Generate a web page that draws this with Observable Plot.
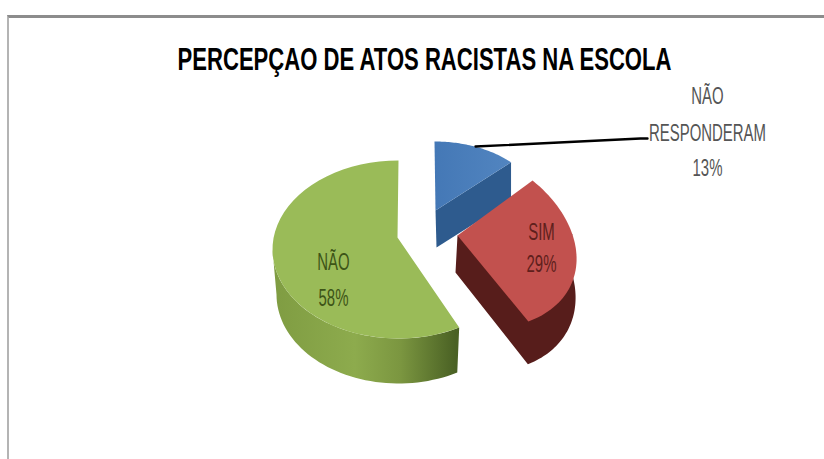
<!DOCTYPE html>
<html lang="pt">
<head>
<meta charset="utf-8">
<title>Percepção de atos racistas na escola</title>
<script src="https://cdn.jsdelivr.net/npm/d3@7"></script>
<script src="https://cdn.jsdelivr.net/npm/@observablehq/plot@0.6"></script>
<style>
  html, body { margin: 0; background: #fff; }
  #chart { position: relative; width: 824px; height: 459px; overflow: hidden; }
  #chart svg { display: block; }
  #frame { position: absolute; left: 7px; top: 15px; right: -4px; bottom: -4px;
           border-top: 3px solid #8c8c8c; border-left: 2px solid #b4b4b4; pointer-events: none; }
</style>
</head>
<body>
<div id="chart"><div id="frame"></div></div>
<script>
const chartTitle = "PERCEPÇAO DE ATOS RACISTAS NA ESCOLA";
const categories = ["NÃO RESPONDERAM", "SIM", "NÃO"];
const shares = [13, 29, 58];

// Clockwise sweep of each slice, starting at twelve o'clock.
const total = d3.sum(shares);
const sweeps = Array.from(d3.cumsum(shares), (end, i) => ({
  t0: ((end - shares[i]) / total) * 2 * Math.PI,
  t1: (end / total) * 2 * Math.PI
}));

// Perspective view of the exploded pie: each top face is an ellipse (possibly sheared),
// its extruded rim a second ellipse below, and each slice has its own apex.
const view = [
  { top: { c: [434, 207], a: [105, 0], b: [0, -66] }, bottom: { c: [434, 245], a: [105, 0], b: [0, -66] },
    apex: [435, 210], apexLow: [436, 247] },
  { top: { c: [457, 235], a: [118, 11], b: [-16, -92] }, bottom: { c: [457, 272], a: [117, 12], b: [-16, -98] },
    apex: [457, 235], apexLow: [455, 272] },
  { top: { c: [398, 249], a: [126, 0], b: [0, -89] }, bottom: { c: [398, 294], a: [122, 0], b: [0, -89] },
    apex: [397, 237], apexLow: [397, 280] }
];

const rim = (e, t) => ({
  x: e.c[0] + e.a[0] * Math.sin(t) + e.b[0] * Math.cos(t),
  y: e.c[1] + e.a[1] * Math.sin(t) + e.b[1] * Math.cos(t)
});
const arc = (e, t0, t1, n = 48) =>
  d3.range(n + 1).map(i => rim(e, t0 + (t1 - t0) * i / n));
const pt = ([x, y]) => ({ x, y });

const faces = sweeps.map(({ t0, t1 }, i) =>
  [pt(view[i].apex), ...arc(view[i].top, t0, t1)]);

// Visible walls of each slice.
const blueWall = [
  pt(view[0].apex), rim(view[0].top, sweeps[0].t1),
  rim(view[0].bottom, sweeps[0].t1), pt(view[0].apexLow)
];
const redTurn = sweeps[1].t0 + 0.62;
const redWall = [
  pt(view[1].apex), rim(view[1].top, redTurn),
  ...arc(view[1].bottom, redTurn, sweeps[1].t1), pt(view[1].apexLow)
];
const greenTurn = 1.5 * Math.PI;
const greenWall = [
  ...arc(view[2].top, sweeps[2].t0, greenTurn),
  ...arc(view[2].bottom, greenTurn, sweeps[2].t0)
];

const leader = [{ x: 475, y: 146 }, { x: 640, y: 138 }, { x: 647, y: 138 }];

const labels = [
  { lines: ["NÃO", "RESPONDERAM", `${shares[0]}%`], x: 707, ys: [96, 133, 168], fill: "#555555" },
  { lines: ["SIM", `${shares[1]}%`], x: 541, ys: [232, 264], fill: "#5e1f1c" },
  { lines: ["NÃO", `${shares[2]}%`], x: 333, ys: [262, 298], fill: "#3d5417" }
].flatMap(g => g.lines.map((text, i) => ({ text, x: g.x, y: g.ys[i], fill: g.fill })));

const gradients = () => {
  const defs = d3.create("svg:defs");
  const add = (id, stops) => {
    const g = defs.append("linearGradient").attr("id", id)
      .attr("gradientUnits", "userSpaceOnUse")
      .attr("x1", stops.x1).attr("x2", stops.x2).attr("y1", 0).attr("y2", 0);
    stops.c.forEach(([o, c]) => g.append("stop").attr("offset", o).attr("stop-color", c));
  };
  add("greenSide", { x1: 272, x2: 455, c: [[0, "#7f9c42"], [0.45, "#8dab4d"], [0.7, "#7b9640"], [1, "#4a6124"]] });
  add("blueTop", { x1: 434, x2: 511, c: [[0, "#4478b6"], [1, "#5285c0"]] });
  return defs.node();
};

const shape = (points, fill) => Plot.line(points, { x: "x", y: "y", fill, stroke: "none" });

const plot = Plot.plot({
  width: 824,
  height: 459,
  margin: 0,
  x: { domain: [0, 824], range: [0, 824], axis: null },
  y: { domain: [0, 459], range: [0, 459], axis: null },
  style: { background: "transparent" },
  marks: [
    gradients,
    shape(greenWall, "url(#greenSide)"),
    shape(faces[2], "#9abb58"),
    shape(blueWall, "#2e5b8e"),
    shape(faces[0], "url(#blueTop)"),
    shape(redWall, "#571d1b"),
    shape(faces[1], "#c2514e"),
    Plot.line(leader, { x: "x", y: "y", stroke: "#000", strokeWidth: 2.4 }),
    Plot.text(labels, {
      x: "x", y: "y", text: "text", fill: "fill", fontSize: 23,
      fontFamily: "'Liberation Sans', sans-serif"
    }),
    Plot.text([chartTitle], {
      x: () => 424, y: () => 59, text: d => d, fontSize: 32, fontWeight: 700, fill: "#000",
      fontFamily: "'Liberation Sans', sans-serif"
    })
  ]
});
document.getElementById("chart").prepend(plot);

// The face is a condensed sans, so squeeze each string horizontally.
plot.querySelectorAll("text").forEach(t => {
  const condense = t.getAttribute("font-size") === "32" || t.parentNode.getAttribute("font-size") === "32" ? 0.69 : 0.65;
  t.setAttribute("transform", `${t.getAttribute("transform") || ""} scale(${condense},1)`);
});
</script>
</body>
</html>
